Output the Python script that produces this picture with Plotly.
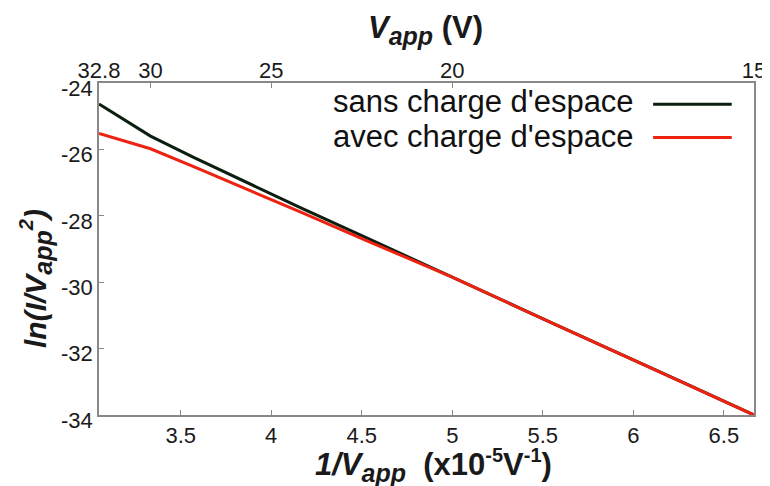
import plotly.graph_objs as go

# tensions appliquées (V) et abscisse 1/Vapp
tension = [32.8, 30, 28, 26, 24, 22, 20, 18, 16, 15]
inv_tension = [100 / v for v in tension]

# ln(I/Vapp^2)
sans_charge = [-24.63, -25.60, -26.24, -26.95, -27.77, -28.71, -29.85, -31.24, -32.96, -34.0]
avec_charge = [-25.52, -25.98, -26.52, -27.15, -27.90, -28.79, -29.85, -31.24, -32.96, -34.0]

# graduations
ticks_bas = [3.5, 4, 4.5, 5, 5.5, 6, 6.5]
ticks_haut = [32.8, 30, 25, 20, 15]
ticks_y = [-34, -32, -30, -28, -26, -24]

noms = ["sans charge d'espace", "avec charge d'espace"]
couleurs = ['#0c1e10', '#ee2211']

x_min = 100 / 32.8
x_max = 100 / 15

# indices et exposants plus gros que ceux de plotly, comme sur l'original
app = '<sub><span style="font-size:25px">app</span></sub>'


def expo(t):
    return '<sup><span style="font-size:20px">' + t + '</span></sup>'


fig = go.Figure()

fig.add_trace(go.Scatter(x=inv_tension, y=sans_charge, mode='lines', name=noms[0],
                         line=dict(color=couleurs[0], width=3)))
fig.add_trace(go.Scatter(x=inv_tension, y=avec_charge, mode='lines', name=noms[1],
                         line=dict(color=couleurs[1], width=3)))
# trace invisible pour activer l'axe du haut
fig.add_trace(go.Scatter(x=[100 / v for v in ticks_haut], y=[None] * len(ticks_haut),
                         xaxis='x2', showlegend=False, hoverinfo='skip'))

police = dict(family='Liberation Sans, Arial', color='#1a1a1a')

# la page ajoute une marge de 8 px : la figure est donc un peu plus petite que la fenêtre
fig.update_layout(
    width=762, height=478,
    margin=dict(l=91, r=16, t=75, b=71, autoexpand=False),
    paper_bgcolor='white', plot_bgcolor='white',
    showlegend=False,
    font=police,
    xaxis=dict(range=[x_min, x_max], tickvals=ticks_bas, automargin=False,
               ticks='inside', ticklen=5, tickcolor='#888', tickfont=dict(size=22),
               showline=True, linecolor='#888', linewidth=1.5, mirror=True,
               showgrid=False, zeroline=False),
    xaxis2=dict(range=[x_min, x_max], overlaying='x', side='top', automargin=False,
                tickvals=[100 / v for v in ticks_haut], ticktext=[str(v) for v in ticks_haut],
                ticks='inside', ticklen=5, tickcolor='#888', tickfont=dict(size=22),
                showline=False, showgrid=False, zeroline=False),
    yaxis=dict(range=[-34, -24], tickvals=ticks_y, ticktext=[str(v) for v in ticks_y],
               automargin=False, ticklabelshift=5,
               ticks='inside', ticklen=5, tickcolor='#888', tickfont=dict(size=22),
               showline=True, linecolor='#888', linewidth=1.5, mirror=True,
               showgrid=False, zeroline=False),
)

# titres des axes placés à la main
fig.add_annotation(x=0.51, y=-0.152, xref='paper', yref='paper', showarrow=False,
                   xanchor='center', yanchor='middle', font=dict(size=31),
                   text='<b><i>1/V' + app + '</i>  (x10' + expo('-5') + 'V' + expo('-1') + ')</b>')
fig.add_annotation(x=0.498, y=1.16, xref='paper', yref='paper', showarrow=False,
                   xanchor='center', yanchor='middle', font=dict(size=31),
                   text='<b><i>V' + app + '</i> (V)</b>')
fig.add_annotation(x=-0.096, y=0.41, xref='paper', yref='paper', showarrow=False,
                   xanchor='center', yanchor='middle', textangle=-90, font=dict(size=30),
                   text='<b><i>ln(I/V' + app + expo('2') + ')</i></b>')

# légende dessinée à la main : texte puis échantillon de trait
pos_y = [0.943, 0.840]
pos_trait = [0.936, 0.836]
for nom, couleur, yt, yl in zip(noms, couleurs, pos_y, pos_trait):
    fig.add_annotation(x=0.82, y=yt, xref='paper', yref='paper', text=nom,
                       showarrow=False, xanchor='right', yanchor='middle',
                       font=dict(size=31, color='#111'))
    fig.add_shape(type='line', xref='paper', yref='paper', x0=0.846, x1=0.966, y0=yl, y1=yl,
                  line=dict(color=couleur, width=3))

fig.write_html("out.html")
